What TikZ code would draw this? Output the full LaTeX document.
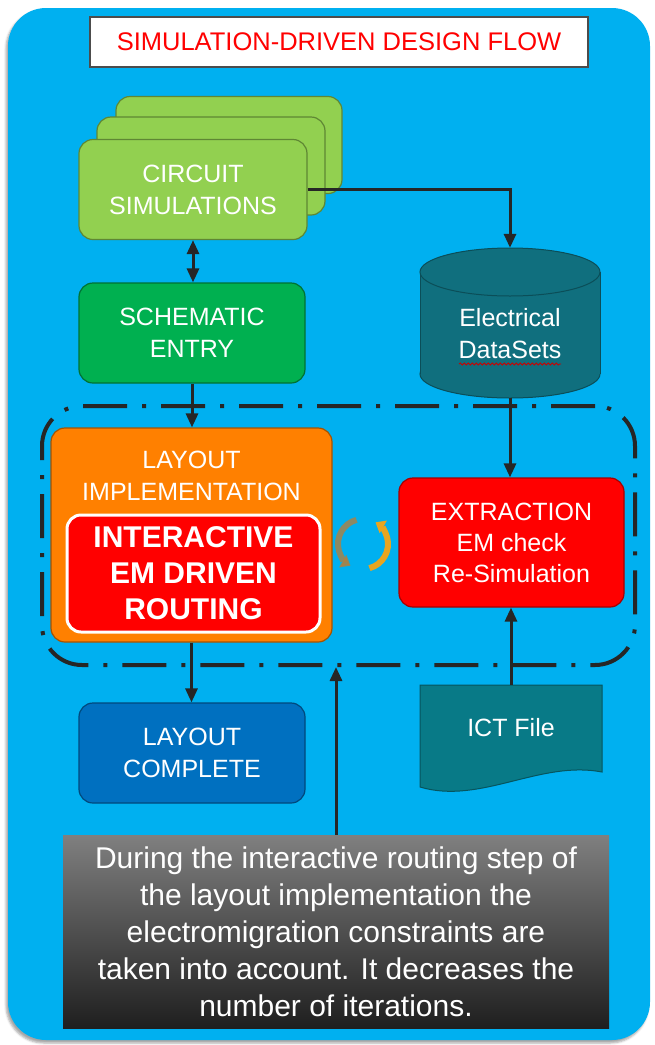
\documentclass[tikz,border=0pt]{standalone}
\usepackage{fontspec}
\setmainfont{Liberation Sans}
\usetikzlibrary{arrows.meta,shadows.blur,decorations.pathmorphing}

\definecolor{panelblue}{RGB}{0,176,240}
\definecolor{simgreen}{RGB}{146,208,80}
\definecolor{schgreen}{RGB}{0,176,80}
\definecolor{dbteal}{RGB}{16,111,126}
\definecolor{ictteal}{RGB}{8,122,135}
\definecolor{layorange}{RGB}{255,128,0}
\definecolor{emred}{RGB}{255,0,0}
\definecolor{doneblue}{RGB}{0,112,192}
\definecolor{cycbrown}{RGB}{176,128,64}
\definecolor{cycgold}{RGB}{232,165,32}

\tikzset{
  flowbox/.style={rectangle, rounded corners=14pt, draw=#1!65!black, line width=1.2pt,
    fill=#1, text=white, align=center, inner sep=0pt, font=\fontsize{25}{32}\selectfont},
  link/.style={-{Triangle[length=14pt,width=12pt]}, line width=3pt, draw=black!85},
}

\begin{document}
\begin{tikzpicture}[x=1pt, y=-1pt]
  \useasboundingbox (0,0) rectangle (655,1045);
  % blue panel behind everything
  \fill[panelblue, rounded corners=38pt,
    blur shadow={shadow xshift=-2pt, shadow yshift=-3pt, shadow opacity=35}] (8,8) rectangle (650,1040);

  % title
  \node[draw=black!70, line width=1.5pt, fill=white, minimum width=498pt, minimum height=50pt,
        inner sep=0pt, text=red, font=\fontsize{25.5}{30}\selectfont] (title) at (339,42)
        {SIMULATION-DRIVEN DESIGN FLOW};

  % circuit simulation stack
  \node[flowbox=simgreen, minimum width=226pt, minimum height=97pt] (sim3) at (229,145) {};
  \node[flowbox=simgreen, minimum width=228pt, minimum height=98pt] (sim2) at (211,166) {};
  \node[flowbox=simgreen, minimum width=228pt, minimum height=100pt] (sim1) at (193,189.5) {CIRCUIT\\SIMULATIONS};

  \node[flowbox=schgreen, minimum width=226pt, minimum height=100pt] (schem) at (192,333) {SCHEMATIC\\ENTRY};

  % database cylinder
  \node[minimum width=180pt, minimum height=150pt, inner sep=0pt] (db) at (510,323) {};
  \filldraw[fill=dbteal, draw=dbteal!70!black, line width=1pt] (510,374) ellipse [x radius=90, y radius=24];
  \fill[dbteal] (420,272) rectangle (600,374);
  \draw[dbteal!70!black, line width=1pt] (420,272) -- (420,374) (600,272) -- (600,374);
  \filldraw[fill=dbteal, draw=dbteal!70!black, line width=1pt] (510,272) ellipse [x radius=90, y radius=24];
  \node[text=white, align=center, font=\fontsize{25}{32}\selectfont] (dbtxt) at (510,334) {Electrical\\DataSets};
  \draw[red!80!black, line width=0.8pt, decorate, decoration={snake, amplitude=1pt, segment length=4pt}]
    (459,364) -- (561,364);

  % EM loop region
  \node[draw=black!85, line width=4pt, dash pattern=on 44pt off 15pt on 4pt off 15pt,
        rounded corners=40pt, minimum width=593pt, minimum height=259pt] (loop) at (338.5,535.5) {};

  \node[flowbox=layorange, minimum width=281pt, minimum height=214pt] (layout) at (191.5,535) {};
  \node[text=white, align=center, font=\fontsize{25}{32}\selectfont] (laytxt) at (191.5,476) {LAYOUT\\IMPLEMENTATION};
  \node[flowbox=emred, draw=white, line width=3pt, minimum width=253pt, minimum height=117pt,
        font=\bfseries\fontsize{30}{36}\selectfont] (route) at (193.5,573.5) {INTERACTIVE\\EM DRIVEN\\ROUTING};

  \node[flowbox=emred, minimum width=225pt, minimum height=129pt, font=\fontsize{25}{31}\selectfont]
    (extract) at (511.5,542.5) {EXTRACTION\\EM check\\Re-Simulation};

  % exchange arrows between routing and extraction
  \coordinate (cyc) at (363,544);
  \draw[cycbrown, line width=6pt, opacity=0.8, -{Triangle[length=9pt,width=14pt]}]
    (cyc) ++(255:25) arc[start angle=255, end angle=120, radius=25];
  \draw[cycgold, line width=6pt, -{Triangle[length=9pt,width=14pt]}]
    (cyc) ++(75:25) arc[start angle=75, end angle=-60, radius=25];

  % ICT document
  \node[minimum width=182pt, minimum height=105pt, inner sep=0pt] (ict) at (511,737.5) {};
  \filldraw[fill=ictteal, draw=ictteal!70!black, line width=1pt]
    (420,685) -- (602,685) -- (602,772) .. controls (540,760) and (480,805) .. (420,787) -- cycle;
  \node[text=white, font=\fontsize{25}{32}\selectfont] (icttxt) at (511,728) {ICT File};

  \node[flowbox=doneblue, minimum width=226pt, minimum height=100pt] (done) at (192,753) {LAYOUT\\COMPLETE};

  % note
  \node[top color=black!50, middle color=black!84, bottom color=black!88, minimum width=546pt,
        minimum height=193pt, text=white, align=center, inner sep=0pt,
        font=\fontsize{30}{37}\selectfont] (note) at (336,931.5)
        {During the interactive routing step of\\the layout implementation the\\electromigration constraints are\\taken into account. It decreases the\\number of iterations.};

  % connectors
  \draw[link] (sim1.east) -| (db.north);
  \draw[link, {Triangle[length=14pt,width=12pt]}-{Triangle[length=14pt,width=12pt]}]
    (sim1.south) -- (sim1.south |- schem.north);
  \draw[link] (schem.south) -- (schem.south |- layout.north);
  \draw[link] (db.south) -- (db.south |- extract.north);
  \draw[link] (ict.north) -- (ict.north |- extract.south);
  \draw[link] (layout.south) -- (layout.south |- done.north);
  \draw[link] (note.north) -- (note.north |- loop.south);
\end{tikzpicture}
\end{document}
